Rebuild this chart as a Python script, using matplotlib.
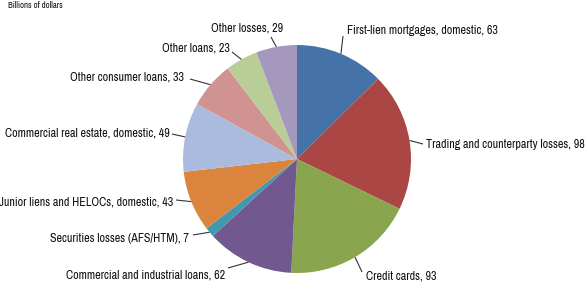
import matplotlib
matplotlib.use("Agg")
import matplotlib.pyplot as plt
import numpy as np

categories = ["First-lien mortgages, domestic", "Trading and counterparty losses", "Credit cards",
              "Commercial and industrial loans", "Securities losses (AFS/HTM)",
              "Junior liens and HELOCs, domestic", "Commercial real estate, domestic",
              "Other consumer loans", "Other loans", "Other losses"]
values = [63, 98, 93, 62, 7, 43, 49, 33, 23, 29]
colors = ["#4572A7", "#AA4643", "#89A54E", "#71588F", "#4198AF", "#DB843D",
          "#AABBDE", "#D19392", "#B9CD96", "#A499BC"]

# layout (pixel coords, y down): leader outer end, text anchor, alignment
leader_end = [(343, 36), (423, 144), (362, 272), (228, 268), (193, 235),
              (176, 200), (172, 134), (190, 79), (232, 52), (271, 37)]
text_pos = [(347, 30), (426, 144), (366, 276), (225, 275), (189, 239),
            (173, 202), (170, 133), (184, 77), (230, 48), (247, 28)]
text_ha = ["left", "left", "left", "right", "right", "right", "right", "right", "right", "center"]

W, H = 585, 282
fam = ["Archivo Narrow", "DejaVu Sans"]
fig = plt.figure(figsize=(W / 100, H / 100), dpi=100)
ax = fig.add_axes([0, 0, 1, 1])
ax.set_aspect("equal")

cx, cy, r = 297, H - 159, 114
wedges, _ = ax.pie(values, colors=colors, startangle=90, counterclock=False,
                   center=(cx, cy), radius=r, frame=True,
                   wedgeprops=dict(linewidth=0))
ax.set_xlim(0, W)
ax.set_ylim(0, H)
ax.axis("off")

for w, lab, v, le, tp, ha in zip(wedges, categories, values, leader_end, text_pos, text_ha):
    mid = np.deg2rad((w.theta1 + w.theta2) / 2)
    ex, ey = cx + r * np.cos(mid), cy + r * np.sin(mid)
    ax.plot([ex, le[0]], [ey, H - le[1]], color="#333333", lw=0.8, solid_capstyle="butt")
    ax.text(tp[0], H - tp[1], f"{lab}, {v}", ha=ha, va="center", fontsize=8.7,
            family=fam, color="#111111")

ax.text(8, H - 5, "Billions of dollars", ha="left", va="center", fontsize=6.3,
        family=fam, color="#111111")

fig.savefig("out.png", dpi=100)
